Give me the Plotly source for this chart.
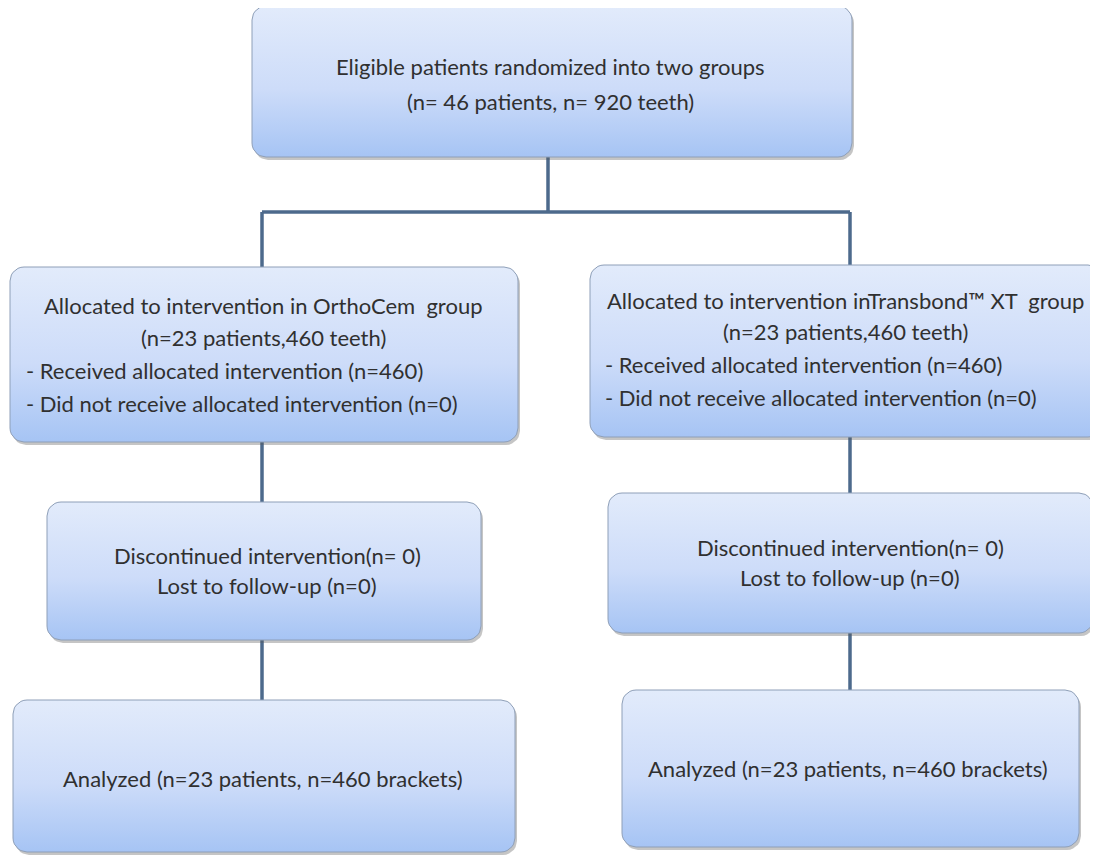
import plotly.graph_objects as go
import numpy as np

# ---- content ----
top_lines = ["Eligible patients randomized into two groups", "(n= 46 patients, n= 920 teeth)"]
alloc_titles = ["Allocated to intervention in OrthoCem  group", "Allocated to intervention inTransbond\u2122 XT  group"]
alloc_counts = ["(n=23 patients,460 teeth)", "(n=23 patients,460 teeth)"]
alloc_received = ["- Received allocated intervention (n=460)", "- Received allocated intervention (n=460)"]
alloc_not = ["- Did not receive allocated intervention (n=0)", "- Did not receive allocated intervention (n=0)"]
followup_lines = ["Discontinued intervention(n= 0)", "Lost to follow-up (n=0)"]
analyzed = ["Analyzed (n=23 patients, n=460 brackets)", "Analyzed (n=23 patients, n=460 brackets)"]

# ---- layout geometry (pixels of the page, y downward) ----
W, H = 1098, 855
OFF = 8  # default page body margin
boxes = {
    "top": (252, 6, 852, 157),
    "alloc_L": (10, 267, 518, 442),
    "alloc_R": (590, 265, 1102, 437),
    "fu_L": (47, 502, 481, 640),
    "fu_R": (608, 493, 1093, 633),
    "an_L": (13, 700, 515, 852),
    "an_R": (622, 690, 1079, 847),
}
LX, RX, CX = 262, 850, 548
LIGHT, DARK = "#e2ebfb", "#a6c4f4"
BORDER = "#8e9fb8"
LINE = "#4d6a8c"
FONT = dict(family="Lato, Open Sans, sans-serif", size=22, color="#303030")

def rounded_path(x0, y0, x1, y1, r=14, n=8):
    xs, ys = [], []
    corners = [(x1 - r, y0 + r, -90, 0), (x1 - r, y1 - r, 0, 90),
               (x0 + r, y1 - r, 90, 180), (x0 + r, y0 + r, 180, 270)]
    for cx, cy, a0, a1 in corners:
        for a in np.linspace(np.radians(a0), np.radians(a1), n):
            xs.append(cx + r * np.cos(a))
            ys.append(cy + r * np.sin(a))
    xs.append(xs[0]); ys.append(ys[0])
    return xs, ys

fig = go.Figure()

# connectors
conn = [
    ([CX, CX], [157, 212]),
    ([LX, RX], [212, 212]),
    ([LX, LX], [212, 267]),
    ([RX, RX], [212, 265]),
    ([LX, LX], [442, 502]),
    ([RX, RX], [437, 493]),
    ([LX, LX], [640, 700]),
    ([RX, RX], [633, 690]),
]
for xs, ys in conn:
    fig.add_trace(go.Scatter(x=xs, y=ys, mode="lines", line=dict(color=LINE, width=3.5),
                             hoverinfo="skip", showlegend=False))

# boxes with shadow + gradient
for name, (x0, y0, x1, y1) in boxes.items():
    sx, sy = rounded_path(x0 + 2, y0 + 3, x1 + 2, y1 + 3)
    fig.add_trace(go.Scatter(x=sx, y=sy, mode="lines", fill="toself",
                             fillcolor="rgba(90,90,90,0.35)", line=dict(width=0),
                             hoverinfo="skip", showlegend=False))
    bx, by = rounded_path(x0, y0, x1, y1)
    fig.add_trace(go.Scatter(x=bx, y=by, mode="lines", fill="toself",
                             fillgradient=dict(type="vertical", start=y0, stop=y1,
                                               colorscale=[[0, LIGHT], [0.55, "#cddcf9"], [1, DARK]]),
                             line=dict(color=BORDER, width=1),
                             hoverinfo="skip", showlegend=False))

def txt(x, y, s, anchor="center"):
    fig.add_annotation(x=x, y=y, text=s, showarrow=False, xref="x", yref="y",
                       xanchor=anchor, yanchor="middle", font=FONT)

# top
txt(550, 66, top_lines[0]); txt(550, 101, top_lines[1])
# allocation
txt(263, 305, alloc_titles[0]); txt(263, 337, alloc_counts[0])
txt(24, 370, alloc_received[0], "left"); txt(24, 403, alloc_not[0], "left")
txt(845, 300, alloc_titles[1]); txt(845, 331, alloc_counts[1])
txt(603, 364, alloc_received[1], "left"); txt(603, 397, alloc_not[1], "left")
# follow-up
txt(267, 555, followup_lines[0]); txt(267, 585, followup_lines[1])
txt(850, 547, followup_lines[0]); txt(850, 577, followup_lines[1])
# analyzed
txt(263, 778, analyzed[0]); txt(848, 768, analyzed[1])

fig.update_layout(width=W - OFF, height=H - OFF, margin=dict(l=0, r=0, t=0, b=0),
                  plot_bgcolor="white", paper_bgcolor="white",
                  xaxis=dict(range=[OFF, W], visible=False, fixedrange=True),
                  yaxis=dict(range=[H, OFF], visible=False, fixedrange=True))
fig.write_html("out.html")
